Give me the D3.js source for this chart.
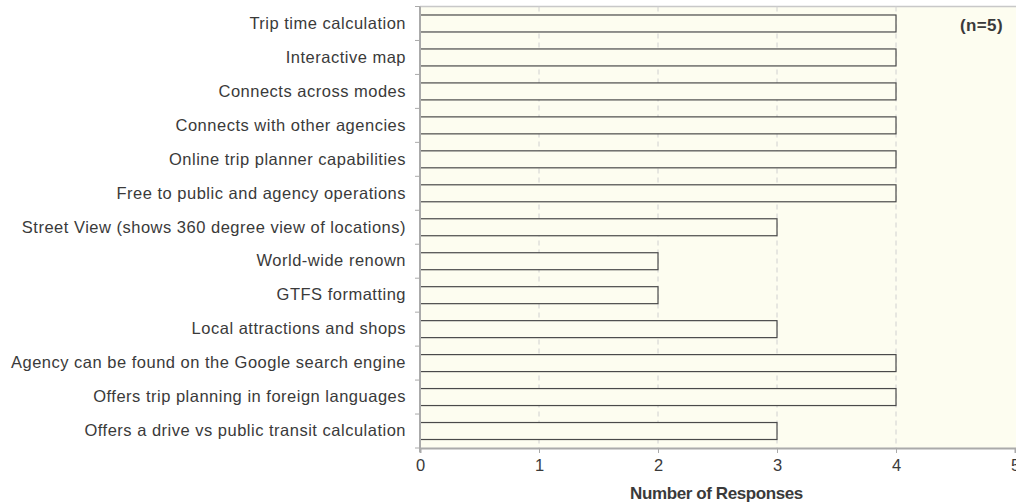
<!DOCTYPE html>
<html><head><meta charset="utf-8">
<script src="https://cdn.jsdelivr.net/npm/d3@7"></script>
<style>body{margin:0;background:#fff;}svg{display:block;font-family:"Liberation Sans",Arial,sans-serif;}</style>
</head><body>
<svg id="chart" width="1016" height="503"></svg>
<script>
const categories = [
  "Trip time calculation",
  "Interactive map",
  "Connects across modes",
  "Connects with other agencies",
  "Online trip planner capabilities",
  "Free to public and agency operations",
  "Street View (shows 360 degree view of locations)",
  "World-wide renown",
  "GTFS formatting",
  "Local attractions and shops",
  "Agency can be found on the Google search engine",
  "Offers trip planning in foreign languages",
  "Offers a drive vs public transit calculation"
];
const values = [4,4,4,4,4,4,3,2,2,3,4,4,3];
const xTicks = [0,1,2,3,4,5];
const xTitle = "Number of Responses";
const note = "(n=5)";

const svg = d3.select("#chart");
const m = {left:420, right:1015, top:6.5, bottom:448};
const x = d3.scaleLinear().domain([0,5]).range([m.left, m.right]);
const y = d3.scaleBand().domain(categories).range([m.top, m.bottom]).paddingInner(0.5).paddingOuter(0.25);
const txt = "#3a3a3a";

// background
svg.append("rect").attr("x", m.left).attr("y", m.top).attr("width", m.right - m.left + 2).attr("height", m.bottom - m.top)
  .attr("fill", "#fdfdf0");
svg.append("line").attr("x1", m.left).attr("x2", 1016).attr("y1", m.top).attr("y2", m.top)
  .attr("stroke", "#c8c8c8").attr("stroke-width", 1.5);

// grid
svg.append("g").selectAll("line").data(xTicks.filter(d => d > 0 && d < 5)).join("line")
  .attr("x1", d => x(d)).attr("x2", d => x(d)).attr("y1", m.top).attr("y2", m.bottom)
  .attr("stroke", "#d0d0d0").attr("stroke-dasharray", "5,4");

// bars
svg.append("g").selectAll("rect").data(categories).join("rect")
  .attr("x", x(0)).attr("y", d => y(d))
  .attr("width", (d,i) => x(values[i]) - x(0)).attr("height", y.bandwidth())
  .attr("fill", "#fdfdf0").attr("stroke", "#4a4a4a").attr("stroke-width", 1.2);

// y axis
const yAxis = d3.axisLeft(y).tickSize(0).tickPadding(14);
const gy = svg.append("g").attr("transform", `translate(${m.left},0)`).call(yAxis);
gy.select(".domain").remove();
gy.selectAll("text").attr("font-size", 16.5).attr("letter-spacing", "0.5").attr("fill", txt)
  .attr("font-family", "Liberation Sans, Arial, sans-serif");
// band boundary ticks
const bounds = categories.map(c => y(c) - y.step()*y.paddingInner()/2).concat([m.bottom]);
svg.append("g").selectAll("line").data(bounds).join("line")
  .attr("x1", m.left - 5).attr("x2", m.left).attr("y1", d => d).attr("y2", d => d)
  .attr("stroke", "#aaa").attr("stroke-width", 1);
svg.append("line").attr("x1", m.left).attr("x2", m.left).attr("y1", m.top).attr("y2", m.bottom + 4)
  .attr("stroke", "#aaa").attr("stroke-width", 2);

// x axis
const gx = svg.append("g").attr("transform", `translate(0,${m.bottom})`)
  .call(d3.axisBottom(x).tickValues(xTicks).tickFormat(d3.format("d")).tickSize(5).tickPadding(6));
gx.select(".domain").attr("stroke", "#aaa").attr("stroke-width", 2);
gx.selectAll(".tick line").attr("stroke", "#aaa");
gx.selectAll("text").attr("font-size", 16.5).attr("fill", txt).attr("font-family", "Liberation Sans, Arial, sans-serif");

svg.append("text").attr("x", (x(0)+x(5))/2 - 1).attr("y", 499).attr("text-anchor", "middle")
  .attr("font-size", 17).attr("font-weight", "bold").attr("fill", txt).attr("letter-spacing", "-0.4")
  .text(xTitle);

svg.append("text").attr("x", 1003).attr("y", 31).attr("text-anchor", "end")
  .attr("font-size", 17).attr("font-weight", "bold").attr("fill", txt).attr("letter-spacing", "0.4").text(note);
</script>
</body></html>
